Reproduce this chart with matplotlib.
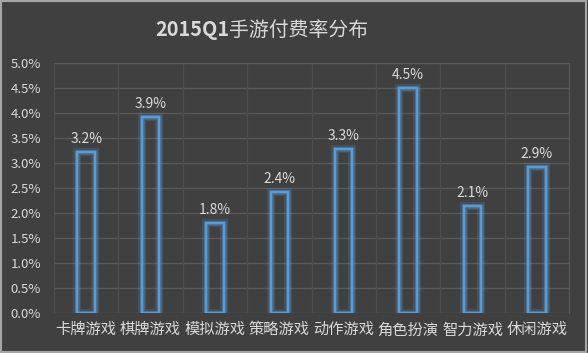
import numpy as np
import matplotlib.pyplot as plt
import matplotlib.patheffects as pe

plt.rcParams['font.family'] = ['Noto Sans CJK SC', 'DejaVu Sans']

categories = ['卡牌游戏', '棋牌游戏', '模拟游戏', '策略游戏', '动作游戏', '角色扮演', '智力游戏', '休闲游戏']
rates = [3.22, 3.92, 1.80, 2.42, 3.28, 4.50, 2.14, 2.92]
yticks = [0.0, 0.5, 1.0, 1.5, 2.0, 2.5, 3.0, 3.5, 4.0, 4.5, 5.0]

BG = '#404040'
TXT = '#d9d9d9'
BLUE = '#5b9bd5'

fig = plt.figure(figsize=(5.88, 3.53), dpi=100, facecolor=BG)
ax = fig.add_axes([54/588, 1 - 313/353, 515/588, 250/353])
ax.set_facecolor(BG)

x = np.arange(len(categories))
bars = ax.bar(x, rates, width=0.27, facecolor='none', edgecolor=BLUE, linewidth=1.6, zorder=3)
for b in bars:
    b.set_path_effects([pe.withStroke(linewidth=6, foreground=BLUE, alpha=0.18),
                        pe.withStroke(linewidth=3.5, foreground=BLUE, alpha=0.3),
                        pe.Normal()])

for xi, v in zip(x, rates):
    ax.text(xi, v + 0.12, f'{v:.1f}%', ha='center', va='bottom', color=TXT, fontsize=10)

ax.set_xlim(-0.5, len(categories) - 0.5)
ax.set_ylim(0, 5.0)
ax.set_yticks(yticks)
ax.set_yticklabels([f'{t:.1f}%' for t in yticks])
ax.set_xticks(x)
ax.set_xticklabels(categories)
ax.tick_params(axis='both', length=0, colors=TXT)
ax.tick_params(axis='y', pad=9.5, labelsize=9.5)
ax.tick_params(axis='x', pad=6, labelsize=11)

for t in yticks:
    ax.axhline(t, color='#595959', linewidth=1, zorder=1)
for b in np.arange(-0.5, len(categories), 1.0):
    ax.axvline(b, color='#4d4d4d', linewidth=1, zorder=1)
for s in ax.spines.values():
    s.set_visible(False)
ax.spines['right'].set_visible(True)
ax.spines['right'].set_color('#595959')
ax.spines['top'].set_visible(True)
ax.spines['top'].set_color('#595959')

# title: bold "2015Q1" followed by regular Chinese
fig.canvas.draw()
r = fig.canvas.get_renderer()
ty = 1 - 30/353
t1 = fig.text(0, ty, '2015Q1', ha='left', va='center', color=TXT, fontsize=14.3, fontweight='bold')
t2 = fig.text(0, ty, '手游付费率分布', ha='left', va='center', color=TXT, fontsize=14.3)
w1 = t1.get_window_extent(r).width / fig.bbox.width
w2 = t2.get_window_extent(r).width / fig.bbox.width
x0 = 0.445 - (w1 + w2) / 2
t1.set_x(x0)
t2.set_x(x0 + w1)

# outer light border
fig.patches.append(plt.Rectangle((0.002, 0.003), 0.994, 0.994, transform=fig.transFigure,
                                 fill=False, edgecolor='#a6a6a6', linewidth=1.5))

fig.savefig('out.png', dpi=100, facecolor=BG)
